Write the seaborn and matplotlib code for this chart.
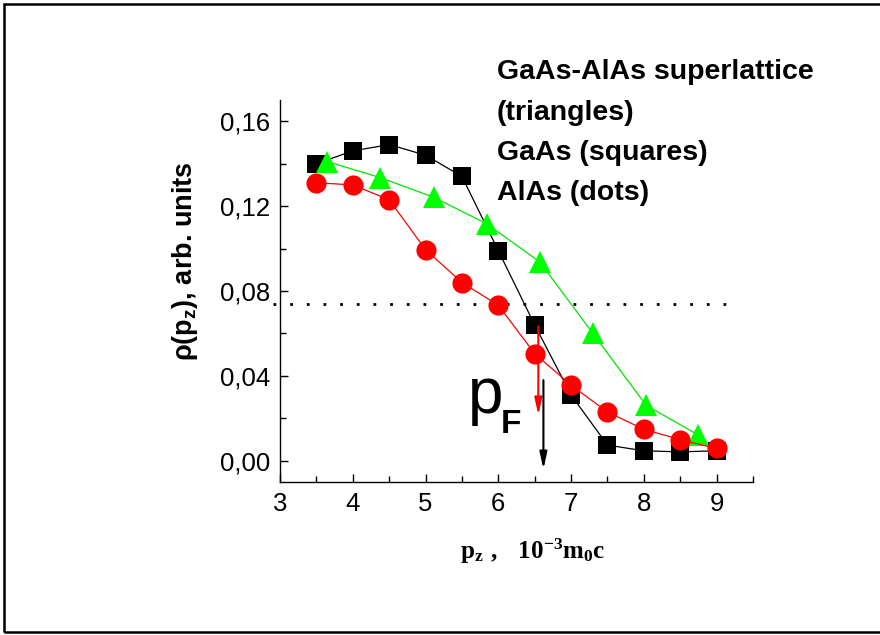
import numpy as np
import pandas as pd
import matplotlib.pyplot as plt
from matplotlib.patches import Rectangle
import seaborn as sns

# momentum p_z (10^-3 m0 c) and density rho(p_z), arb. units
gaas_x = [3.5, 4.0, 4.5, 5.0, 5.5, 6.0, 6.5, 7.0, 7.5, 8.0, 8.5, 9.0]
gaas_y = [0.140, 0.146, 0.149, 0.144, 0.134, 0.099, 0.064, 0.031, 0.0074, 0.0047, 0.0042, 0.0047]

alas_x = [3.5, 4.0, 4.5, 5.0, 5.5, 6.0, 6.5, 7.0, 7.5, 8.0, 8.5, 9.0]
alas_y = [0.131, 0.130, 0.123, 0.0995, 0.084, 0.0733, 0.0505, 0.0356, 0.023, 0.0148, 0.010, 0.0058]

sl_x = [3.65, 4.38, 5.11, 5.84, 6.57, 7.30, 8.03, 8.75]
sl_y = [0.141, 0.1334, 0.1242, 0.1117, 0.0937, 0.060, 0.0262, 0.0121]

fermi_level = 0.0737
pf_alas = 6.55
pf_gaas = 6.62

xticks = [3, 4, 5, 6, 7, 8, 9]
yticks = [0.00, 0.04, 0.08, 0.12, 0.16]
ytick_labels = ['0,00', '0,04', '0,08', '0,12', '0,16']

notes = ['GaAs-AlAs superlattice', '(triangles)', 'GaAs (squares)', 'AlAs (dots)']

sns.set_style('ticks')
plt.rcParams['font.family'] = ['Liberation Sans', 'DejaVu Sans']
plt.rcParams['text.color'] = 'black'
plt.rcParams['xtick.color'] = 'black'
plt.rcParams['ytick.color'] = 'black'
plt.rcParams['axes.labelcolor'] = 'black'
plt.rcParams['mathtext.fontset'] = 'custom'
plt.rcParams['mathtext.bf'] = 'Liberation Serif:bold'
plt.rcParams['mathtext.rm'] = 'Liberation Serif:bold'
plt.rcParams['mathtext.sf'] = 'Liberation Sans:bold'

fig = plt.figure(figsize=(8.8, 6.35), dpi=100)
ax = fig.add_axes([280/880, 1-482/635, 473/880, 382/635])

gaas = pd.DataFrame({'x': gaas_x, 'y': gaas_y})
alas = pd.DataFrame({'x': alas_x, 'y': alas_y})
sl = pd.DataFrame({'x': sl_x, 'y': sl_y})

sns.lineplot(data=gaas, x='x', y='y', ax=ax, color='black', lw=0.9,
             marker='s', ms=12.5, mec='black', mew=0, zorder=3)
sns.lineplot(data=sl, x='x', y='y', ax=ax, color='#00e600', lw=0.9,
             marker='^', ms=16.5, mfc='#00ff00', mec='#00ff00', mew=0, zorder=4)
sns.lineplot(data=alas, x='x', y='y', ax=ax, color='#ff0000', lw=0.9,
             marker='o', ms=14.5, mec='#ff0000', mew=0, zorder=5)

ax.plot([2.9, 9.2], [fermi_level, fermi_level], color='black', lw=2,
        ls=(0, (1, 5)), clip_on=False, zorder=2)

ax.annotate('', xy=(pf_alas, 0.0215), xytext=(pf_alas, 0.0633),
            arrowprops=dict(arrowstyle='-|>,head_width=0.22,head_length=1.0',
                            color='#ff0000', lw=1.5, shrinkA=0, shrinkB=0), zorder=6)
ax.annotate('', xy=(pf_gaas, -0.004), xytext=(pf_gaas, 0.038),
            arrowprops=dict(arrowstyle='-|>,head_width=0.22,head_length=1.0',
                            color='black', lw=1.5, shrinkA=0, shrinkB=0),
            annotation_clip=False, zorder=6)

ax.text(5.586, 0.0225, 'p', fontsize=46, color='black', ha='left', va='baseline')
ax.text(6.03, 0.013, 'F', fontsize=24, fontweight='bold', color='black', ha='left', va='baseline')

ax.set_xlim(3, 9.5)
ax.set_ylim(-0.01, 0.17)
ax.set_xticks(xticks)
ax.set_xticklabels([str(t) for t in xticks])
ax.set_yticks(yticks)
ax.set_yticklabels(ytick_labels)
ax.set_xticks(np.arange(3.5, 9.6, 1.0), minor=True)
ax.set_yticks(np.arange(0.02, 0.17, 0.04), minor=True)
ax.tick_params(which='major', direction='in', length=6, width=1, labelsize=18.5, pad=7,
               color='black', labelcolor='black')
ax.tick_params(which='minor', direction='in', length=4, width=1, color='black')
ax.set_xlabel('')
ax.set_ylabel('')
sns.despine(ax=ax)
for side in ['left', 'bottom']:
    ax.spines[side].set_color('black')
    ax.spines[side].set_linewidth(1)

fig.text(533/880, 1-559/635, r'$\mathbf{p_z\ ,\ \ 10^{-3}m_0c}$', fontsize=18,
         color='black', ha='center', va='baseline')
fig.text(185/880, 1-261/635, r'ρ(p$_\mathsf{z}$), arb. units', fontsize=19.5,
         fontweight='bold', color='black', rotation=90, ha='center', va='center')

baselines = [79, 120, 160, 200]
for line, yb in zip(notes, baselines):
    fig.text(497/880, 1-yb/635, line, fontsize=20.5, fontweight='bold',
             color='black', ha='left', va='baseline')

fig.patches.append(Rectangle((4/880, 1-632/635), 1.0, 628/635, transform=fig.transFigure,
                             fill=False, edgecolor='black', lw=1.8))

fig.savefig('out.png', dpi=100)
